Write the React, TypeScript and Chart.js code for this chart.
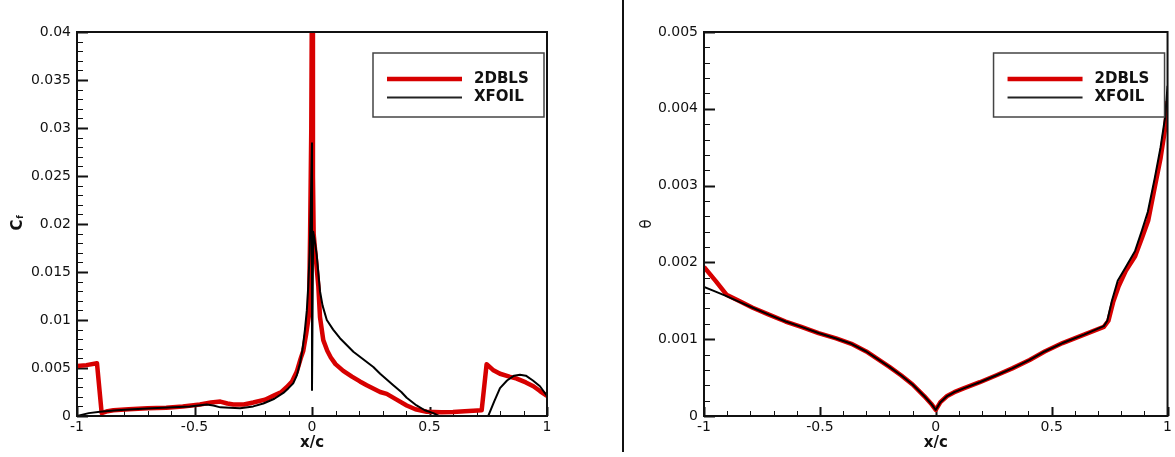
import React, { useEffect, useRef } from 'react';
import { Chart, registerables } from 'chart.js';

Chart.register(...registerables);

// ---------- tick labels ----------
const xTickValues = [-1, -0.5, 0, 0.5, 1];
const cfTickValues = [0, 0.005, 0.01, 0.015, 0.02, 0.025, 0.03, 0.035, 0.04];
const thetaTickValues = [0, 0.001, 0.002, 0.003, 0.004, 0.005];

const seriesNames = ['2DBLS', 'XFOIL'];

// ---------- Cf : 2DBLS ----------
const cfDblsX = [-1.0, -0.96, -0.915, -0.895, -0.87, -0.845, -0.78, -0.7, -0.62, -0.55, -0.477, -0.43, -0.39, -0.36, -0.335, -0.29, -0.25, -0.2, -0.165, -0.13, -0.108, -0.085, -0.065, -0.048, -0.037, -0.025, -0.013, -0.008, -0.003, 0.0, 0.004, 0.007, 0.016, 0.027, 0.034, 0.048, 0.065, 0.08, 0.1, 0.133, 0.17, 0.204, 0.233, 0.29, 0.318, 0.36, 0.403, 0.44, 0.488, 0.55, 0.6, 0.65, 0.722, 0.743, 0.77, 0.8, 0.84, 0.871, 0.91, 0.942, 0.97, 1.0];
const cfDblsY = [0.0052, 0.0053, 0.0055, 0.0003, 0.0005, 0.0006, 0.0007, 0.0008, 0.00087, 0.001, 0.0012, 0.0014, 0.0015, 0.0013, 0.0012, 0.0012, 0.0014, 0.0017, 0.0021, 0.0025, 0.003, 0.0036, 0.0046, 0.006, 0.0068, 0.0085, 0.0105, 0.019, 0.03, 0.046, 0.025, 0.019, 0.0165, 0.0135, 0.0103, 0.0079, 0.0068, 0.0061, 0.0054, 0.0047, 0.0041, 0.0036, 0.0032, 0.0025, 0.0023, 0.0017, 0.0011, 0.0007, 0.00045, 0.0004, 0.00042, 0.0005, 0.0006, 0.0054, 0.0048, 0.0044, 0.0041, 0.0039, 0.0035, 0.0031, 0.0026, 0.0021];

// ---------- Cf : XFOIL ----------
const cfXfoilX = [-1.0, -0.95, -0.902, -0.83, -0.76, -0.68, -0.59, -0.52, -0.448, -0.42, -0.39, -0.35, -0.306, -0.25, -0.207, -0.16, -0.122, -0.1, -0.08, -0.065, -0.051, -0.04, -0.03, -0.022, -0.016, -0.01, -0.005, 0.0, 0.0, 0.005, 0.012, 0.02, 0.034, 0.045, 0.063, 0.09, 0.119, 0.176, 0.261, 0.29, 0.346, 0.38, 0.403, 0.445, 0.48, 0.516, 0.54, 0.6, 0.68, 0.73, 0.75, 0.775, 0.8, 0.83, 0.86, 0.885, 0.91, 0.94, 0.97, 1.0];
const cfXfoilY = [0.0, 0.0003, 0.00045, 0.0006, 0.0007, 0.0008, 0.0009, 0.001, 0.0012, 0.0011, 0.0009, 0.00085, 0.0008, 0.001, 0.0013, 0.0018, 0.0024, 0.0029, 0.0034, 0.0042, 0.0055, 0.007, 0.009, 0.011, 0.0135, 0.017, 0.022, 0.0284, 0.0027, 0.0192, 0.0182, 0.0168, 0.013, 0.0115, 0.01, 0.009, 0.0081, 0.0067, 0.0051, 0.0044, 0.0032, 0.0025, 0.0019, 0.0011, 0.0006, 0.0003, 0.0, -0.0006, -0.0008, -0.0004, 0.0, 0.0015, 0.0029, 0.0037, 0.0042, 0.0043, 0.0042, 0.0037, 0.0031, 0.0021];

// ---------- theta : 2DBLS ----------
const thDblsX = [-1.0, -0.95, -0.903, -0.85, -0.79, -0.72, -0.648, -0.58, -0.506, -0.43, -0.364, -0.3, -0.25, -0.2, -0.15, -0.1, -0.05, -0.02, 0.0, 0.02, 0.049, 0.08, 0.12, 0.19, 0.262, 0.33, 0.405, 0.47, 0.547, 0.64, 0.725, 0.745, 0.765, 0.789, 0.82, 0.86, 0.89, 0.917, 0.945, 0.97, 0.99, 1.0];
const thDblsY = [0.00194, 0.00176, 0.00158, 0.0015, 0.00141, 0.00132, 0.00123, 0.00116, 0.00108, 0.00101, 0.00094, 0.00084, 0.00074, 0.00064, 0.00053, 0.00041, 0.00026, 0.00016, 0.00008, 0.00018, 0.00026, 0.00031, 0.00036, 0.00044, 0.00053, 0.00062, 0.00073, 0.00084, 0.00095, 0.00106, 0.00116, 0.00124, 0.00148, 0.00169, 0.00189, 0.00208, 0.00232, 0.00255, 0.00298, 0.00336, 0.00375, 0.0041];

// ---------- theta : XFOIL ----------
const thXfoilX = [-1.0, -0.95, -0.903, -0.85, -0.79, -0.72, -0.648, -0.58, -0.506, -0.43, -0.364, -0.3, -0.25, -0.2, -0.15, -0.1, -0.05, -0.02, 0.0, 0.02, 0.049, 0.08, 0.12, 0.19, 0.262, 0.33, 0.405, 0.47, 0.547, 0.64, 0.725, 0.74, 0.76, 0.785, 0.82, 0.86, 0.89, 0.915, 0.945, 0.97, 0.99, 1.0];
const thXfoilY = [0.00168, 0.00162, 0.00156, 0.00149, 0.00141, 0.00132, 0.00123, 0.00116, 0.00108, 0.00101, 0.00094, 0.00084, 0.00074, 0.00064, 0.00053, 0.00041, 0.00026, 0.00016, 0.00008, 0.00018, 0.00026, 0.00031, 0.00036, 0.00044, 0.00053, 0.00062, 0.00073, 0.00084, 0.00095, 0.00106, 0.00117, 0.00124, 0.0015, 0.00176, 0.00194, 0.00215, 0.00242, 0.00266, 0.0031, 0.0035, 0.0039, 0.0043];

const RED = '#d70000';
const BLACK = '#000000';
const TICK_FONT = { family: 'DejaVu Sans', size: 14 };

const toPoints = (xs: number[], ys: number[]) => xs.map((x, i) => ({ x, y: ys[i] }));

function minorValues(max: number, step: number, every: number, min = 0) {
  const out: number[] = [];
  const n0 = Math.round(min / step);
  const n1 = Math.round(max / step);
  for (let i = n0; i <= n1; i++) {
    if (i % every !== 0) out.push(+(i * step).toFixed(6));
  }
  return out;
}

type Cfg = {
  yMax: number;
  yTicks: number[];
  yMinor: number[];
  padRight: number;
  yWidth: number;
  series: { xs: number[]; ys: number[]; color: string; width: number; order: number; label: string }[];
  yTitle?: string;
  yTitlePad?: number;
  cfTitle?: boolean;
};

function buildChart(canvas: HTMLCanvasElement, c: Cfg) {
  const xMinor = minorValues(1, 0.1, 5, -1);
  const plugin = {
    id: 'decor',
    beforeDatasetsDraw(chart: any) {
      const { ctx, chartArea: a, scales } = chart;
      const x = scales.x, y = scales.y;
      ctx.save();
      ctx.strokeStyle = '#111';
      const drawX = (vals: number[], len: number, w: number) => {
        ctx.lineWidth = w;
        ctx.beginPath();
        vals.forEach((v) => {
          const px = Math.round(x.getPixelForValue(v)) + 0.5;
          ctx.moveTo(px, a.bottom);
          ctx.lineTo(px, a.bottom - len);
        });
        ctx.stroke();
      };
      const drawY = (vals: number[], len: number, w: number) => {
        ctx.lineWidth = w;
        ctx.beginPath();
        vals.forEach((v) => {
          const py = Math.round(y.getPixelForValue(v)) + 0.5;
          ctx.moveTo(a.left, py);
          ctx.lineTo(a.left + len, py);
        });
        ctx.stroke();
      };
      drawX(xMinor, 5, 1);
      drawX(xTickValues, 9, 2);
      drawY(c.yMinor, 6, 1);
      drawY(c.yTicks, 11, 2);
      ctx.restore();
    },
    afterDatasetsDraw(chart: any) {
      const { ctx, chartArea: a } = chart;
      ctx.save();
      ctx.strokeStyle = '#111';
      ctx.lineWidth = 2;
      ctx.strokeRect(a.left, a.top, a.right - a.left, a.bottom - a.top);
      ctx.restore();
    },
    afterDraw(chart: any) {
      const { ctx, chartArea: a } = chart;
      ctx.save();
      // legend box
      const bx = a.right - 174, by = a.top + 21, bw = 171, bh = 64;
      ctx.fillStyle = '#fff';
      ctx.fillRect(bx, by, bw, bh);
      ctx.strokeStyle = '#444';
      ctx.lineWidth = 1.5;
      ctx.strokeRect(bx, by, bw, bh);
      const rows = [
        { y: a.top + 47, color: RED, w: 4.5, label: seriesNames[0] },
        { y: a.top + 65.5, color: '#222', w: 2, label: seriesNames[1] },
      ];
      rows.forEach((r) => {
        ctx.strokeStyle = r.color;
        ctx.lineWidth = r.w;
        ctx.beginPath();
        ctx.moveTo(a.right - 160, r.y);
        ctx.lineTo(a.right - 85, r.y);
        ctx.stroke();
        ctx.fillStyle = '#111';
        ctx.font = 'bold 15px "DejaVu Sans"';
        ctx.textBaseline = 'middle';
        ctx.textAlign = 'left';
        ctx.fillText(r.label, a.right - 73, r.y);
      });
      if (c.cfTitle) {
        ctx.translate(18, 225);
        ctx.rotate(-Math.PI / 2);
        ctx.fillStyle = '#111';
        ctx.textAlign = 'center';
        ctx.textBaseline = 'middle';
        ctx.font = 'bold 15px "DejaVu Sans"';
        ctx.fillText('C', 0, 0);
        ctx.font = 'bold 8px "DejaVu Sans"';
        ctx.fillText('f', 8, 3);
      }
      ctx.restore();
    },
  };

  return new Chart(canvas, {
    type: 'line',
    data: {
      datasets: c.series.map((s) => ({
        label: s.label,
        data: toPoints(s.xs, s.ys),
        borderColor: s.color,
        backgroundColor: s.color,
        borderWidth: s.width,
        pointRadius: 0,
        tension: 0,
        fill: false,
        order: s.order,
        borderJoinStyle: 'round' as const,
      })),
    },
    options: {
      responsive: false,
      animation: false,
      devicePixelRatio: 1,
      layout: { padding: { left: 0, top: 32, right: c.padRight, bottom: 0 } },
      plugins: { legend: { display: false }, tooltip: { enabled: false } },
      scales: {
        x: {
          type: 'linear',
          min: -1,
          max: 1,
          grid: { display: false, drawTicks: false },
          border: { display: false },
          afterBuildTicks: (s: any) => {
            s.ticks = xTickValues.map((v) => ({ value: v }));
          },
          afterFit: (s: any) => {
            s.height = 41;
          },
          ticks: {
            color: '#111',
            font: TICK_FONT,
            padding: 3,
            maxRotation: 0,
            callback: (v: any) => String(v),
          },
          title: {
            display: true,
            text: 'x/c',
            color: '#111',
            font: { family: 'DejaVu Sans', size: 15, weight: 'bold' },
            padding: { top: 0, bottom: 5 },
          },
        },
        y: {
          type: 'linear',
          min: 0,
          max: c.yMax,
          grid: { display: false, drawTicks: false },
          border: { display: false },
          afterBuildTicks: (s: any) => {
            s.ticks = c.yTicks.map((v) => ({ value: v }));
          },
          afterFit: (s: any) => {
            s.width = c.yWidth;
          },
          ticks: {
            color: '#111',
            font: TICK_FONT,
            padding: 6,
            callback: (v: any) => String(v),
          },
          title: c.yTitle
            ? {
                display: true,
                text: c.yTitle,
                color: '#111',
                font: { family: 'DejaVu Sans', size: 15 },
                padding: { top: c.yTitlePad ?? 0, bottom: 0 },
              }
            : { display: false },
        },
      },
    },
    plugins: [plugin],
  } as any);
}

export default function App() {
  const leftRef = useRef<HTMLCanvasElement>(null);
  const rightRef = useRef<HTMLCanvasElement>(null);

  useEffect(() => {
    const left = buildChart(leftRef.current!, {
      yMax: 0.04,
      yTicks: cfTickValues,
      yMinor: minorValues(0.04, 0.001, 5),
      padRight: 43,
      yWidth: 77,
      cfTitle: true,
      series: [
        { xs: cfDblsX, ys: cfDblsY, color: RED, width: 4.5, order: 2, label: seriesNames[0] },
        { xs: cfXfoilX, ys: cfXfoilY, color: BLACK, width: 2, order: 1, label: seriesNames[1] },
      ],
    });
    const right = buildChart(rightRef.current!, {
      yMax: 0.005,
      yTicks: thetaTickValues,
      yMinor: minorValues(0.005, 0.0002, 5),
      padRight: 2,
      yWidth: 114,
      yTitle: 'θ',
      yTitlePad: 48,
      series: [
        { xs: thDblsX, ys: thDblsY, color: RED, width: 4.5, order: 2, label: seriesNames[0] },
        { xs: thXfoilX, ys: thXfoilY, color: BLACK, width: 2, order: 1, label: seriesNames[1] },
      ],
    });
    return () => {
      left.destroy();
      right.destroy();
    };
  }, []);

  return (
    <div style={{ position: 'fixed', left: 0, top: 0, width: 1175, height: 457, background: '#fff', overflow: 'hidden' }}>
      <canvas ref={leftRef} width={590} height={457} style={{ position: 'absolute', left: 0, top: 0, width: 590, height: 457 }} />
      <canvas ref={rightRef} width={585} height={457} style={{ position: 'absolute', left: 590, top: 0, width: 585, height: 457 }} />
      <div style={{ position: 'absolute', left: 622, top: 0, width: 2, height: 452, background: '#111' }} />
    </div>
  );
}
